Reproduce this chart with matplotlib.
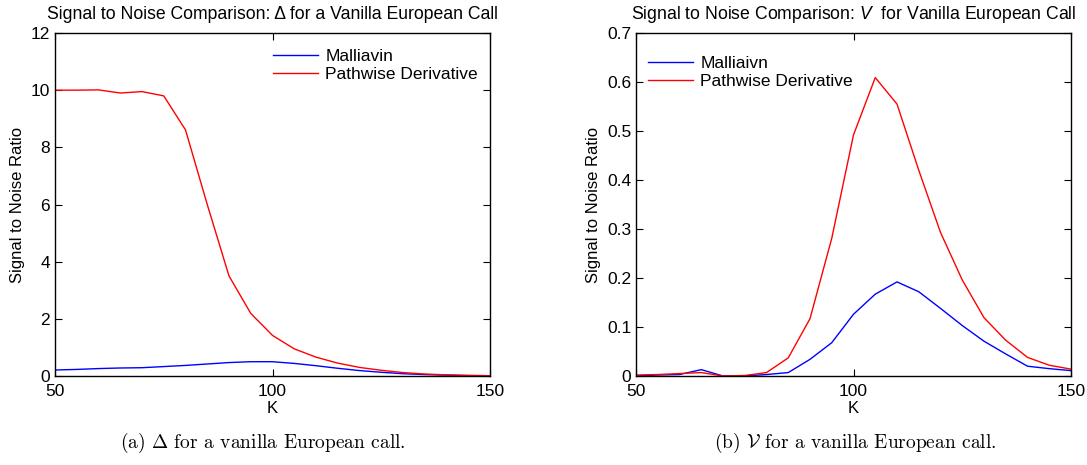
import numpy as np
import matplotlib
matplotlib.use('Agg')
import matplotlib.pyplot as plt

plt.rcParams['font.family'] = ['Liberation Sans', 'DejaVu Sans']
plt.rcParams['mathtext.fontset'] = 'custom'
plt.rcParams['mathtext.rm'] = 'Liberation Sans'
plt.rcParams['mathtext.it'] = 'Liberation Sans:italic'

K = [50, 55, 60, 65, 70, 75, 80, 85, 90, 95, 100,
     105, 110, 115, 120, 125, 130, 135, 140, 145, 150]

# Delta panel
delta_malliavin = [0.21, 0.23, 0.26, 0.28, 0.29, 0.33, 0.37, 0.42, 0.47, 0.50, 0.50,
                   0.44, 0.36, 0.27, 0.19, 0.13, 0.08, 0.05, 0.03, 0.015, 0.01]
delta_pathwise = [10.0, 10.0, 10.01, 9.9, 9.95, 9.8, 8.61, 6.0, 3.5, 2.19, 1.42,
                  0.95, 0.66, 0.45, 0.30, 0.20, 0.12, 0.07, 0.04, 0.02, 0.01]

# Vega panel
vega_malliavin = [0.0, 0.002, 0.003, 0.013, 0.0, 0.0, 0.003, 0.007, 0.034, 0.068, 0.126,
                  0.167, 0.192, 0.172, 0.138, 0.103, 0.071, 0.045, 0.020, 0.015, 0.011]
vega_pathwise = [0.002, 0.003, 0.005, 0.007, 0.0, 0.001, 0.007, 0.037, 0.117, 0.281, 0.492,
                 0.609, 0.555, 0.420, 0.293, 0.196, 0.119, 0.073, 0.038, 0.022, 0.014]

fig = plt.figure(figsize=(10.87, 4.65), dpi=100)
ax1 = fig.add_axes([55 / 1087, 1 - 376 / 465, 435 / 1087, 343 / 465])
ax2 = fig.add_axes([636 / 1087, 1 - 376 / 465, 435 / 1087, 343 / 465])

ax1.plot(K, delta_malliavin, color='#0000ff', lw=1.0, label='Malliavin')
ax1.plot(K, delta_pathwise, color='#ff0000', lw=1.0, label='Pathwise Derivative')
ax1.set_ylim(0, 12)
ax1.set_yticks([0, 2, 4, 6, 8, 10, 12])
ax1.set_title('Signal to Noise Comparison: \u0394 for a Vanilla European Call', fontsize=12.7, pad=10)
ax1.legend(loc='upper right', frameon=False, fontsize=12.5, handlelength=2.6,
           borderaxespad=0.3, labelspacing=0.2, handletextpad=0.4,
           bbox_to_anchor=(1.0, 0.99))

ax2.plot(K, vega_malliavin, color='#0000ff', lw=1.0, label='Malliaivn')
ax2.plot(K, vega_pathwise, color='#ff0000', lw=1.0, label='Pathwise Derivative')
ax2.set_ylim(0, 0.7)
ax2.set_yticks([0, 0.1, 0.2, 0.3, 0.4, 0.5, 0.6, 0.7])
ax2.set_yticklabels(['0', '0.1', '0.2', '0.3', '0.4', '0.5', '0.6', '0.7'])
ax2.set_title('Signal to Noise Comparison: $V$  for Vanilla European Call', fontsize=12.7, pad=10)
ax2.legend(loc='upper left', frameon=False, fontsize=12.5, handlelength=2.6,
           borderaxespad=0.3, labelspacing=0.2, handletextpad=0.4,
           bbox_to_anchor=(0.0, 0.97))

for ax in (ax1, ax2):
    ax.set_xlim(50, 150)
    ax.set_xticks([50, 100, 150])
    ax.set_xlabel('K', fontsize=12, labelpad=1)
    ax.set_ylabel('Signal to Noise Ratio', fontsize=12, labelpad=4)
    ax.tick_params(direction='in', top=True, right=True, labelsize=12.5, length=5, width=0.8)
    ax.tick_params(axis='x', pad=6)
    for s in ax.spines.values():
        s.set_linewidth(1.0)

fig.text(263 / 1087, 1 - 443 / 465, '(a) $\\Delta$ for a vanilla European call.',
         family='cmr10', math_fontfamily='cm', fontsize=14, ha='center', va='center')
fig.text(855 / 1087, 1 - 443 / 465, '(b) $\\mathcal{V}$ for a vanilla European call.',
         family='cmr10', math_fontfamily='cm', fontsize=14, ha='center', va='center')

fig.savefig('out.png', dpi=100)
